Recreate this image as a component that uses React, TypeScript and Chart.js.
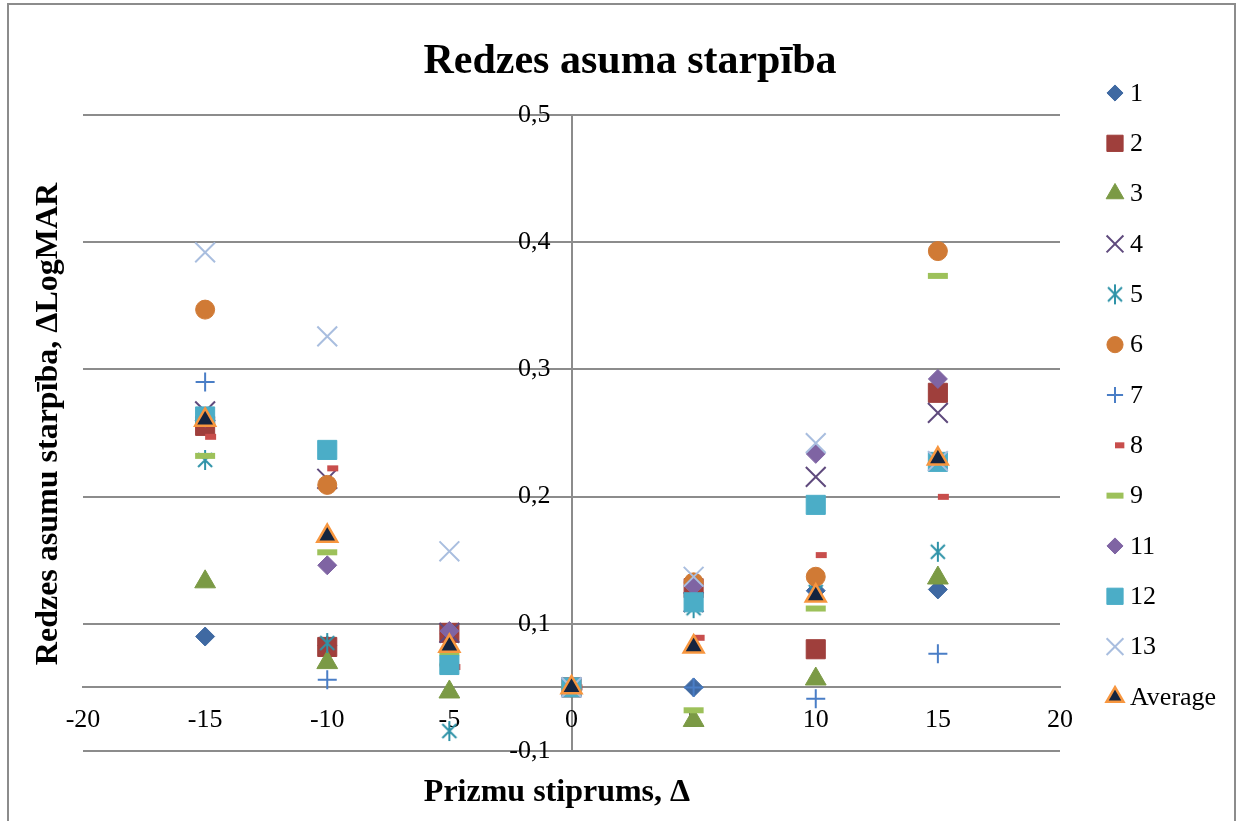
import React, { useEffect, useRef } from 'react';
import { Chart, registerables } from 'chart.js';
import { drawPoint } from 'chart.js/helpers';

Chart.register(...registerables);

// ---- data ----
const xValues = [-15, -10, -5, 0, 5, 10, 15];
const seriesNames = ['1', '2', '3', '4', '5', '6', '7', '8', '9', '11', '12', '13', 'Average'];
const s1 = [0.09, 0.083, 0.092, 0.05, 0.05, 0.126, 0.127];
const s2 = [0.2556, 0.0818, 0.0929, 0.05, 0.128, 0.08, 0.2816];
const s3 = [0.133, 0.0695, 0.0464, 0.05, 0.024, 0.0566, 0.136];
const s4 = [0.267, 0.214, 0.0929, 0.05, 0.117, 0.2155, 0.2658];
const s5 = [0.2288, 0.0849, 0.0157, 0.05, 0.1123, 0.125, 0.1566];
const s6 = [0.347, 0.2092, 0.0676, 0.05, 0.1326, 0.137, 0.393];
const s7 = [0.29, 0.056, 0.068, 0.05, 0.05, 0.041, 0.0764];
const s8 = [0.247, 0.2222, 0.066, 0.05, 0.089, 0.154, 0.1998];
const s9 = [0.232, 0.1562, 0.077, 0.05, 0.032, 0.112, 0.3735];
const s11 = [0.262, 0.146, 0.0944, 0.05, 0.1299, 0.2336, 0.2925];
const s12 = [0.263, 0.2367, 0.0676, 0.05, 0.1169, 0.1935, 0.2273];
const s13 = [0.392, 0.326, 0.157, 0.05, 0.137, 0.242, 0.228];
const sAvg = [0.2603, 0.169, 0.0825, 0.05, 0.082, 0.122, 0.2297];
const seriesValues = [s1, s2, s3, s4, s5, s6, s7, s8, s9, s11, s12, s13, sAvg];

const xTickValues = [-20, -15, -10, -5, 0, 5, 10, 15, 20];
const yTickValues = [0, 0.05, 0.1, 0.2, 0.3, 0.4, 0.5];
const yTickLabels = ['-0,1', '', '0,1', '0,2', '0,3', '0,4', '0,5'];

const chartTitle = 'Redzes asuma starpība';
const xTitle = 'Prizmu stiprums, Δ';
const yTitle = 'Redzes asumu starpība, ΔLogMAR';

const FONT = "'Liberation Serif', 'Times New Roman', serif";
const GRID = '#8c8c8c';

function makeAsterisk(color: string): HTMLCanvasElement {
  const c = document.createElement('canvas');
  c.width = 22;
  c.height = 22;
  const g = c.getContext('2d')!;
  g.strokeStyle = color;
  g.lineWidth = 2;
  g.beginPath();
  g.moveTo(4, 4);
  g.lineTo(18, 18);
  g.moveTo(18, 4);
  g.lineTo(4, 18);
  g.moveTo(11, 1);
  g.lineTo(11, 21);
  g.stroke();
  return c;
}

type Style = { style: any; radius: number; fill: string; border: string; bw: number };

function makeStyles(): Style[] {
  return [
    { style: 'rectRot', radius: 9.5, fill: '#3F69A2', border: '#3F69A2', bw: 1 },
    { style: 'rect', radius: 13.5, fill: '#9F3F3C', border: '#9F3F3C', bw: 1 },
    { style: 'triangle', radius: 12, fill: '#7B9A45', border: '#7B9A45', bw: 1 },
    { style: 'crossRot', radius: 14, fill: '#5F4A7D', border: '#5F4A7D', bw: 2 },
    { style: makeAsterisk('#2F93A8'), radius: 10, fill: '#2F93A8', border: '#2F93A8', bw: 2 },
    { style: 'circle', radius: 9.5, fill: '#D07A35', border: '#D07A35', bw: 1 },
    { style: 'cross', radius: 9.5, fill: '#4A7EC6', border: '#4A7EC6', bw: 2 },
    { style: 'dash', radius: 11, fill: '#C84E4C', border: '#C84E4C', bw: 6 },
    { style: 'line', radius: 10, fill: '#9DC15A', border: '#9DC15A', bw: 6 },
    { style: 'rectRot', radius: 9.5, fill: '#7F64A3', border: '#7F64A3', bw: 1 },
    { style: 'rect', radius: 13.5, fill: '#4BADC7', border: '#4BADC7', bw: 1 },
    { style: 'crossRot', radius: 14, fill: '#A9BEDF', border: '#A9BEDF', bw: 2 },
    { style: 'triangle', radius: 11.5, fill: '#14243F', border: '#F7963F', bw: 2.5 },
  ];
}

export default function App() {
  const ref = useRef<HTMLCanvasElement | null>(null);

  useEffect(() => {
    if (!ref.current) return;
    const styles = makeStyles();
    const n = seriesNames.length;

    const datasets = seriesNames.map((name, i) => ({
      label: name,
      data: xValues.map((x, j) => ({ x, y: seriesValues[i][j] })),
      showLine: false,
      pointStyle: styles[i].style,
      pointRadius: styles[i].radius,
      backgroundColor: styles[i].fill,
      borderColor: styles[i].border,
      pointBorderWidth: styles[i].bw,
      order: n - i,
    }));

    const textPlugin = {
      id: 'texts',
      afterDraw(chart: any) {
        const ctx = chart.ctx as CanvasRenderingContext2D;
        ctx.save();
        ctx.fillStyle = '#000';
        ctx.font = `bold 42px ${FONT}`;
        ctx.textAlign = 'center';
        ctx.textBaseline = 'alphabetic';
        ctx.fillText(chartTitle, 630, 73);
        ctx.font = `bold 32px ${FONT}`;
        ctx.fillText(xTitle, 557, 801);
        ctx.save();
        ctx.translate(57, 424);
        ctx.rotate(-Math.PI / 2);
        ctx.fillText(yTitle, 0, 0);
        ctx.restore();
        ctx.font = `26px ${FONT}`;
        ctx.textAlign = 'left';
        ctx.textBaseline = 'middle';
        for (let i = 0; i < n; i++) {
          const y = 93 + i * 50.33;
          const s = styles[i];
          ctx.save();
          ctx.fillStyle = s.fill;
          ctx.strokeStyle = s.border;
          ctx.lineWidth = s.bw;
          drawPoint(ctx, { pointStyle: s.style, rotation: 0, radius: s.radius * 0.85, borderWidth: s.bw }, 1115, y);
          ctx.restore();
          ctx.fillStyle = '#000';
          ctx.fillText(seriesNames[i], 1130, y + 1);
        }
        ctx.restore();
      },
    };

    const chart = new Chart(ref.current, {
      type: 'scatter',
      data: { datasets: datasets as any },
      plugins: [textPlugin],
      options: {
        animation: false,
        responsive: true,
        maintainAspectRatio: false,
        events: [],
        layout: { padding: { left: 83, right: 182, top: 115, bottom: 70 } },
        plugins: { legend: { display: false }, title: { display: false }, tooltip: { enabled: false } },
        scales: {
          x: {
            type: 'linear',
            min: -20,
            max: 20,
            position: { y: 0.05 } as any,
            afterBuildTicks: (axis: any) => {
              axis.ticks = xTickValues.map((v) => ({ value: v }));
            },
            grid: {
              display: true,
              drawTicks: false,
              lineWidth: 2,
              color: (c: any) => (c.tick && c.tick.value === 0 ? GRID : 'rgba(0,0,0,0)'),
            },
            border: { display: true, color: GRID, width: 2 },
            ticks: {
              autoSkip: false,
              maxRotation: 0,
              padding: 17,
              color: '#000',
              font: { family: FONT, size: 26 },
              callback: (v: any) => String(v),
            },
          },
          y: {
            type: 'linear',
            min: 0,
            max: 0.5,
            position: { x: -0.86 } as any,
            afterBuildTicks: (axis: any) => {
              axis.ticks = yTickValues.map((v) => ({ value: v }));
            },
            grid: { display: true, drawTicks: false, color: GRID, lineWidth: 2 },
            border: { display: false },
            ticks: {
              autoSkip: false,
              color: '#000',
              font: { family: FONT, size: 26 },
              callback: (v: any) => {
                const k = yTickValues.findIndex((t) => Math.abs(t - Number(v)) < 1e-9);
                return k >= 0 ? yTickLabels[k] : '';
              },
            },
          },
        },
      },
    });
    return () => chart.destroy();
  }, []);

  return (
    <div style={{ position: 'fixed', left: 0, top: 0, width: 1242, height: 821, background: '#fff' }}>
      <div
        style={{
          position: 'absolute',
          left: 7,
          top: 3,
          width: 1229,
          height: 830,
          borderLeft: '2px solid #8c8c8c',
          borderRight: '2px solid #8c8c8c',
          borderTop: '2px solid #8c8c8c',
          boxSizing: 'border-box',
        }}
      />
      <canvas ref={ref} style={{ position: 'absolute', left: 0, top: 0 }} />
    </div>
  );
}
